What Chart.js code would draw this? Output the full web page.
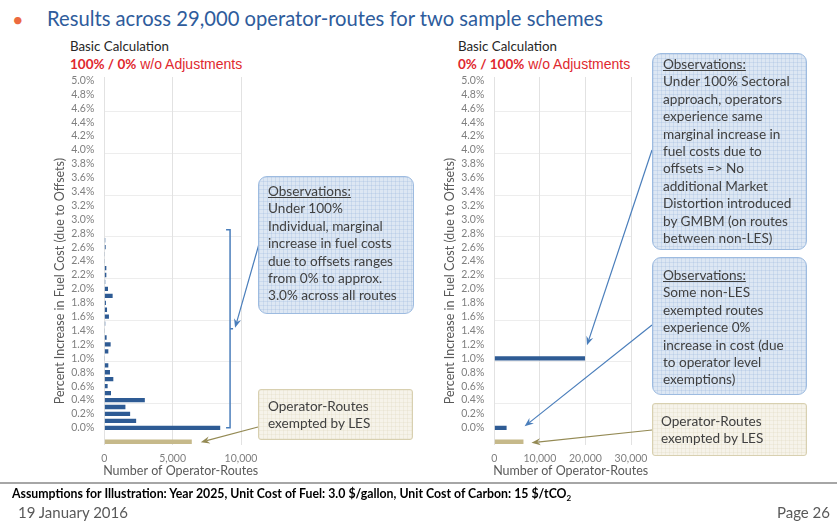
<!DOCTYPE html>
<html>
<head>
<meta charset="utf-8">
<script src="https://cdn.jsdelivr.net/npm/chart.js@4.4.1/dist/chart.umd.min.js"></script>
<style>
  body { margin: 0; width: 837px; height: 523px; background: #fff; position: relative; overflow: hidden; font-family: Lato, 'Open Sans', sans-serif; }
  canvas { position: absolute; left: 0; top: 0; }
  .t { position: absolute; white-space: nowrap; line-height: 1; }
  .box { position: absolute; box-sizing: border-box; border-radius: 9px; font-size: 13.6px; line-height: 17.4px; color: #404040; white-space: nowrap; z-index: 2; }
  .obs { border: 1.5px solid #9dbbe0; background-color: #dde7f3;
         background-image: linear-gradient(rgba(160,188,222,0.3) 1px, transparent 1px), linear-gradient(90deg, rgba(160,188,222,0.3) 1px, transparent 1px);
         background-size: 4px 4px; }
  .les { border: 1.5px solid #d8d0b0; background-color: #f6f3ea; border-radius: 3px;
         background-image: linear-gradient(rgba(220,212,184,0.25) 1px, transparent 1px), linear-gradient(90deg, rgba(220,212,184,0.25) 1px, transparent 1px);
         background-size: 4px 4px; }
  .box u { text-decoration: underline; }
  .sub { font-size: 13.3px; color: #262626; }
  .red { color: #e0282e; font-size: 13.5px; }
  .red span { font-family: 'Liberation Sans', Arial, sans-serif; font-size: 14px; }
</style>
</head>
<body>
<div class="t" style="left:12px;top:9px;font-size:20px;color:#ec6a3f;">•</div>
<div class="t" style="left:47px;top:8px;font-size:20.2px;color:#2e5c9c;">Results across 29,000 operator-routes for two sample schemes</div>

<div class="t sub" style="left:70px;top:40px;">Basic Calculation</div>
<div class="t red" style="left:70px;top:57px;"><b>100% / 0%</b><span> w/o Adjustments</span></div>
<div class="t sub" style="left:458px;top:40px;">Basic Calculation</div>
<div class="t red" style="left:458px;top:57px;"><b>0% / 100%</b><span> w/o Adjustments</span></div>

<canvas id="leftChart" width="837" height="485"></canvas>
<canvas id="rightChart" width="837" height="485"></canvas>

<div class="box obs" style="left:258px;top:176px;width:156px;height:138px;padding:6px 0 0 9px;"><u>Observations:</u><br>Under 100%<br>Individual, marginal<br>increase in fuel costs<br>due to offsets ranges<br>from 0% to approx.<br>3.0% across all routes</div>
<div class="box les" style="left:258px;top:389px;width:155px;height:51px;padding:8px 0 0 9px;">Operator-Routes<br>exempted by LES</div>

<div class="box obs" style="left:652px;top:53px;width:155px;height:197px;padding:2px 0 0 10px;"><u>Observations:</u><br>Under 100% Sectoral<br>approach, operators<br>experience same<br>marginal increase in<br>fuel costs due to<br>offsets =&gt; No<br>additional Market<br>Distortion introduced<br>by GMBM (on routes<br>between non-LES)</div>
<div class="box obs" style="left:652px;top:257px;width:155px;height:138px;padding:9px 0 0 10px;"><u>Observations:</u><br>Some non-LES<br>exempted routes<br>experience 0%<br>increase in cost (due<br>to operator level<br>exemptions)</div>
<div class="box les" style="left:652px;top:403px;width:155px;height:53px;padding:9px 0 0 8px;">Operator-Routes<br>exempted by LES</div>

<div style="position:absolute;left:0;top:482px;width:837px;height:2px;background:#a6a6a6;"></div>
<div class="t" style="left:12px;top:488px;font-size:12.3px;font-weight:bold;color:#000;">Assumptions for Illustration: Year 2025, Unit Cost of Fuel: 3.0 $/gallon, Unit Cost of Carbon: 15 $/tCO<sub style="font-size:8px;">2</sub></div>
<div class="t" style="left:18px;top:505px;font-size:15px;color:#595959;">19 January 2016</div>
<div class="t" style="right:7px;top:505px;font-size:15px;color:#595959;">Page 26</div>

<script>
// y categories, top to bottom
const pctLabels = ['5.0%', '4.9%', '4.8%', '4.7%', '4.6%', '4.5%', '4.4%', '4.3%', '4.2%', '4.1%',
                   '4.0%', '3.9%', '3.8%', '3.7%', '3.6%', '3.5%', '3.4%', '3.3%', '3.2%', '3.1%',
                   '3.0%', '2.9%', '2.8%', '2.7%', '2.6%', '2.5%', '2.4%', '2.3%', '2.2%', '2.1%',
                   '2.0%', '1.9%', '1.8%', '1.7%', '1.6%', '1.5%', '1.4%', '1.3%', '1.2%', '1.1%',
                   '1.0%', '0.9%', '0.8%', '0.7%', '0.6%', '0.5%', '0.4%', '0.3%', '0.2%', '0.1%',
                   '0.0%'];

// operator-routes per 0.1% bucket (100% individual / 0% sectoral)
const leftCounts = [0, 0, 0, 0, 0, 0, 0, 0, 0, 0,
                    0, 0, 0, 0, 0, 0, 0, 0, 0, 0,
                    0, 0, 0, 70, 100, 50, 50, 150, 150, 70,
                    270, 610, 120, 200, 340, 70, 50, 170, 465, 295,
                    50, 295, 415, 660, 245, 490, 2965, 1545, 1890, 2330,
                    8480];

// operator-routes per 0.1% bucket (0% individual / 100% sectoral)
const rightCounts = [0, 0, 0, 0, 0, 0, 0, 0, 0, 0,
                     0, 0, 0, 0, 0, 0, 0, 0, 0, 0,
                     0, 0, 0, 0, 0, 0, 0, 0, 0, 0,
                     0, 0, 0, 0, 0, 0, 0, 0, 0, 0,
                     19900, 0, 0, 0, 0, 0, 0, 0, 0, 0,
                     2700];

// routes exempted by LES
const leftExempt = 6400;
const rightExempt = 6400;

const leftXTicks = [0, 5000, 10000];
const rightXTicks = [0, 10000, 20000, 30000];

const BLUE = '#2e5b94';
const TAN = '#c6b98a';
const ARROW_BLUE = '#4a7ebb';
const ARROW_TAN = '#948a54';
const Y_TITLE = 'Percent Increase in Fuel Cost (due to Offsets)';
const X_TITLE = 'Number of Operator-Routes';

const EXEMPT_INDEX = pctLabels.length + 1; // LES row, one empty row under 0.0%

function buildData(counts, exempt) {
    return {
        labels: pctLabels.concat([' ', '  ']),
        datasets: [{
            data: counts.concat([null, exempt]),
            backgroundColor: counts.map(() => BLUE).concat([BLUE, TAN]),
            categoryPercentage: 1,
            barPercentage: 0.62
        }]
    };
}

function drawArrow(ctx, x1, y1, x2, y2, color) {
    const ang = Math.atan2(y2 - y1, x2 - x1);
    const c = Math.cos(ang), s = Math.sin(ang);
    const len = 9, w = 3.6;
    ctx.strokeStyle = color;
    ctx.fillStyle = color;
    ctx.lineWidth = 1.2;
    ctx.beginPath();
    ctx.moveTo(x1, y1);
    ctx.lineTo(x2 - 6 * c, y2 - 6 * s);
    ctx.stroke();
    ctx.beginPath();
    ctx.moveTo(x2, y2);
    ctx.lineTo(x2 - len * c - w * s, y2 - len * s + w * c);
    ctx.lineTo(x2 - 6 * c, y2 - 6 * s);
    ctx.lineTo(x2 - len * c + w * s, y2 - len * s - w * c);
    ctx.closePath();
    ctx.fill();
}

// axis titles, bracket and callout arrows
const decor = {
    id: 'decor',
    afterDraw(chart, args, opts) {
        const {ctx, chartArea: a, scales: {x, y}} = chart;
        ctx.save();
        ctx.fillStyle = '#595959';
        ctx.font = '12.5px Lato';
        ctx.textAlign = 'center';
        ctx.textBaseline = 'middle';
        ctx.fillText(X_TITLE, (a.left + a.right) / 2 + 8, 471);
        ctx.save();
        ctx.translate(a.left - 44, (a.top + a.bottom) / 2 + 20);
        ctx.rotate(-Math.PI / 2);
        ctx.fillText(Y_TITLE, 0, 0);
        ctx.restore();

        if (opts.bracket) {
            const b = opts.bracket;
            const bx = x.getPixelForValue(b.value);
            const top = y.getPixelForValue(pctLabels.indexOf(b.from)) - 3.5;
            const bot = y.getPixelForValue(pctLabels.indexOf(b.to));
            const mid = (top + bot) / 2;
            ctx.strokeStyle = ARROW_BLUE;
            ctx.lineWidth = 1.5;
            ctx.beginPath();
            ctx.moveTo(bx - 4, top);
            ctx.lineTo(bx, top);
            ctx.lineTo(bx, bot);
            ctx.lineTo(bx - 4, bot);
            ctx.moveTo(bx, mid);
            ctx.lineTo(bx + 3, mid);
            ctx.stroke();
            drawArrow(ctx, b.arrowFrom[0], b.arrowFrom[1], bx + 5, mid - 1, ARROW_BLUE);
        }
        (opts.arrows || []).forEach(ar => {
            const tx = x.getPixelForValue(ar.value) + ar.dx;
            const ty = y.getPixelForValue(ar.index) + ar.dy;
            drawArrow(ctx, ar.from[0], ar.from[1], tx, ty, ar.color);
        });
        ctx.restore();
    }
};

function makeChart(id, counts, exempt, xTicks, padLeft, padRight, decorOpts) {
    const ctx = document.getElementById(id);
    return new Chart(ctx, {
        type: 'bar',
        data: buildData(counts, exempt),
        options: {
            indexAxis: 'y',
            responsive: false,
            animation: false,
            events: [],
            layout: { padding: { left: padLeft, right: padRight, top: 77, bottom: 3.8 } },
            plugins: {
                legend: { display: false },
                tooltip: { enabled: false },
                decor: decorOpts
            },
            scales: {
                y: {
                    afterFit: (scale) => { scale.width = 54; },
                    border: { display: false },
                    grid: {
                        drawTicks: false,
                        offset: true,
                        color: (c) => (c.index !== undefined && (c.index - 5) % 6 === 0) ? '#ededed' : 'rgba(0,0,0,0)'
                    },
                    ticks: {
                        autoSkip: false,
                        padding: 10,
                        color: '#7f7f7f',
                        font: { family: 'Lato', size: 10.5 },
                        callback: (v, i) => (i % 2 === 0 && i < pctLabels.length) ? pctLabels[i] : ''
                    }
                },
                x: {
                    min: xTicks[0],
                    max: xTicks[xTicks.length - 1],
                    afterFit: (scale) => { scale.height = 36; },
                    afterBuildTicks: (scale) => { scale.ticks = xTicks.map(v => ({ value: v })); },
                    border: { display: false },
                    grid: { drawTicks: false, color: '#e2e2e2' },
                    ticks: {
                        padding: 7,
                        color: '#7f7f7f',
                        font: { family: 'Lato', size: 10.5 },
                        callback: (v) => v.toLocaleString('en-US')
                    }
                }
            }
        },
        plugins: [decor]
    });
}

makeChart('leftChart', leftCounts, leftExempt, leftXTicks, 50.3, 596, {
    bracket: { value: 9200, from: '2.8%', to: '0.0%', arrowFrom: [259, 244] },
    arrows: [
        { from: [258, 427], index: EXEMPT_INDEX, value: leftExempt, dx: 9, dy: 0.5, color: ARROW_TAN }
    ]
});

makeChart('rightChart', rightCounts, rightExempt, rightXTicks, 440.3, 206, {
    arrows: [
        { from: [652, 150], index: pctLabels.indexOf('1.0%'), value: rightCounts[pctLabels.indexOf('1.0%')], dx: 2, dy: -13, color: ARROW_BLUE },
        { from: [652, 325], index: pctLabels.indexOf('0.0%'), value: rightCounts[pctLabels.indexOf('0.0%')], dx: 18, dy: -1.5, color: ARROW_BLUE },
        { from: [652, 430], index: EXEMPT_INDEX, value: rightExempt, dx: 8, dy: 1, color: ARROW_TAN }
    ]
});
</script>
</body>
</html>
